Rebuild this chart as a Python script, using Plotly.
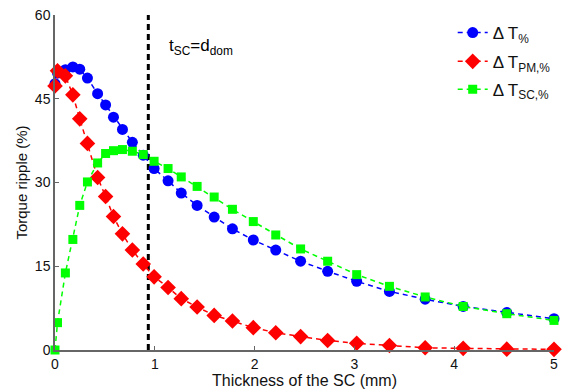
import plotly.graph_objects as go

thickness = [0, 0.025, 0.104, 0.179, 0.248, 0.325, 0.427, 0.507, 0.586, 0.676, 0.775,
             0.884, 0.993, 1.133, 1.265, 1.424, 1.595, 1.778, 1.987, 2.212, 2.461,
             2.732, 3.023, 3.351, 3.709, 4.090, 4.527, 5.0]

delta_t = [47.7, 49.6, 50.2, 50.7, 50.3, 48.7, 45.9, 43.9, 41.7, 39.5, 37.2,
           34.9, 32.5, 30.3, 28.1, 25.9, 23.8, 21.7, 19.7, 17.9, 15.9,
           14.1, 12.3, 10.5, 9.1, 7.8, 6.7, 5.6]

delta_t_pm = [47.3, 50.0, 49.1, 45.7, 41.4, 37.0, 30.9, 27.5, 23.9, 20.8, 17.9,
              15.4, 13.1, 11.2, 9.2, 7.7, 6.2, 5.2, 4.0, 3.1, 2.4,
              1.7, 1.2, 0.8, 0.4, 0.3, 0.15, 0.12]

delta_t_sc = [0.0, 4.9, 13.8, 19.8, 25.9, 30.1, 33.5, 35.2, 35.7, 35.9, 35.6,
              35.0, 33.8, 32.5, 31.0, 29.3, 27.4, 25.2, 23.0, 20.6, 18.1,
              15.9, 13.5, 11.4, 9.5, 7.8, 6.5, 5.3]

d_dom = 0.935
vline_y = [0, 60]

x_ticks = [0, 1, 2, 3, 4, 5]
y_ticks = [0, 15, 30, 45, 60]

FONT = "Liberation Sans, Arial, sans-serif"

fig = go.Figure()

fig.add_trace(go.Scatter(
    x=[d_dom, d_dom], y=vline_y, mode="lines", showlegend=False, hoverinfo="skip",
    line=dict(color="black", width=3, dash="6px,4px"), cliponaxis=False))

fig.add_trace(go.Scatter(
    x=thickness, y=delta_t, mode="lines+markers", name="Δ T<sub>%</sub>",
    legend="legend",
    line=dict(color="#0000FF", width=1.5, dash="5px,4px"),
    marker=dict(symbol="circle", size=11, color="#0000FF"), cliponaxis=False))

fig.add_trace(go.Scatter(
    x=thickness, y=delta_t_pm, mode="lines+markers", name="Δ T<sub>PM,%</sub>",
    legend="legend2",
    line=dict(color="#FF0000", width=1.5, dash="5px,4px"),
    marker=dict(symbol="diamond", size=12, color="#FF0000"), cliponaxis=False))

fig.add_trace(go.Scatter(
    x=thickness, y=delta_t_sc, mode="lines+markers", name="Δ T<sub>SC,%</sub>",
    legend="legend3",
    line=dict(color="#00FF00", width=1.5, dash="5px,4px"),
    marker=dict(symbol="square", size=9, color="#00FF00"), cliponaxis=False))

fig.add_annotation(
    x=1.12, y=54.3, xref="x", yref="y", xanchor="left", yanchor="middle",
    text="t<sub>SC</sub>=d<sub>dom</sub>", showarrow=False,
    font=dict(family=FONT, size=17, color="black"))

leg_common = dict(x=0.797, xanchor="left", yanchor="top", bgcolor="rgba(0,0,0,0)",
                  font=dict(family=FONT, size=17, color="#111"))

fig.update_layout(
    width=565, height=391,
    margin=dict(l=55, r=7, t=13, b=41),
    paper_bgcolor="white", plot_bgcolor="white",
    font=dict(family=FONT, size=14, color="#111"),
    legend=dict(y=1.0, **leg_common),
    legend2=dict(y=0.914, **leg_common),
    legend3=dict(y=0.831, **leg_common),
    xaxis=dict(range=[0, 5], tickvals=x_ticks, ticks="inside", ticklen=4,
               showgrid=False, zeroline=False, showline=True, linecolor="#666",
               linewidth=1.5, tickcolor="#666",
               title=dict(text="Thickness of the SC (mm)", standoff=0,
                          font=dict(family=FONT, size=16, color="#111"))),
    yaxis=dict(range=[0, 60], tickvals=y_ticks, ticks="inside", ticklen=4,
               showgrid=False, zeroline=False, showline=True, linecolor="#666",
               linewidth=1.5, tickcolor="#666",
               title=dict(text="Torque ripple (%)", standoff=4,
                          font=dict(family=FONT, size=15, color="#111"))),
)

fig.write_html("out.html")
